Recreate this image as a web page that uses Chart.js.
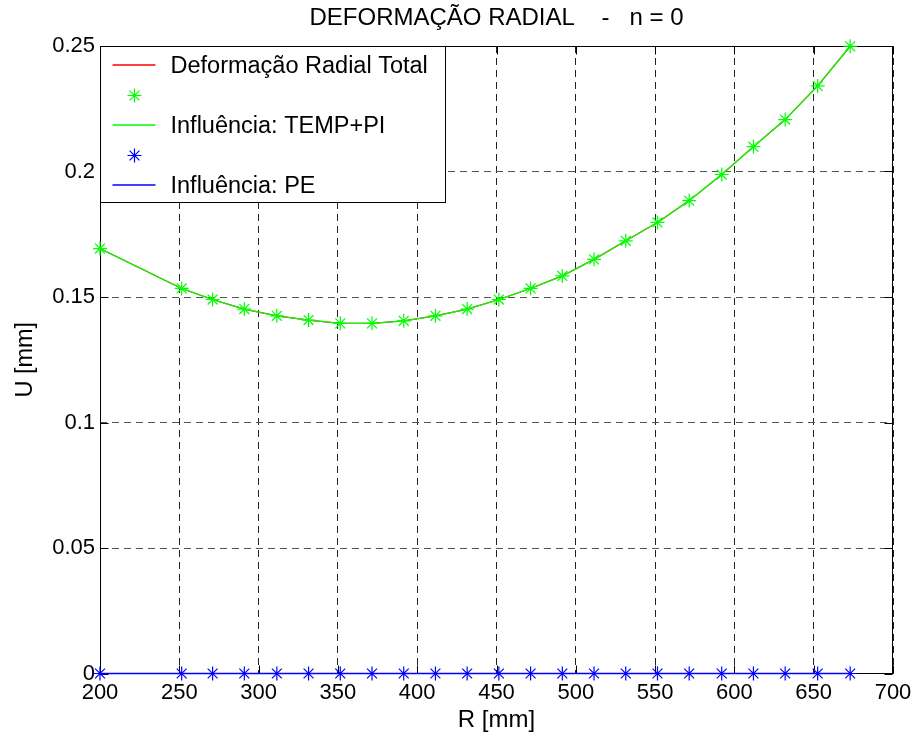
<!DOCTYPE html>
<html>
<head>
<meta charset="utf-8">
<script src="https://cdn.jsdelivr.net/npm/chart.js@4/dist/chart.umd.min.js"></script>
<style>
  html, body { margin: 0; padding: 0; background: #ffffff; }
  #wrap { width: 918px; height: 740px; position: relative; }
</style>
</head>
<body>
<div id="wrap"><canvas id="c" width="918" height="740"></canvas></div>
<script>
// ---- data ----
const chartTitle = 'DEFORMAÇÃO RADIAL    -   n = 0';
const xTitle = 'R [mm]';
const yTitle = 'U [mm]';
const R = [200, 251.5, 271, 291, 311.5, 331.5, 351.5, 371.5, 391.5, 411.5, 431.5, 451.5, 471.5, 491.5, 511.5, 531.5, 551.5, 571.5, 592, 612, 632, 652.5, 673];
const uTotal  = [0.1693, 0.1534, 0.1490, 0.1452, 0.1425, 0.1408, 0.1395, 0.1395, 0.1405, 0.1425, 0.1452, 0.1490, 0.1534, 0.1584, 0.1650, 0.1724, 0.1797, 0.1884, 0.1988, 0.2099, 0.2207, 0.2341, 0.2499];
const uTempPi = [0.1693, 0.1534, 0.1490, 0.1452, 0.1425, 0.1408, 0.1395, 0.1395, 0.1405, 0.1425, 0.1452, 0.1490, 0.1534, 0.1584, 0.1650, 0.1724, 0.1797, 0.1884, 0.1988, 0.2099, 0.2207, 0.2341, 0.2499];
const uPe     = [0, 0, 0, 0, 0, 0, 0, 0, 0, 0, 0, 0, 0, 0, 0, 0, 0, 0, 0, 0, 0, 0, 0];
const xTickLabels = ['200', '250', '300', '350', '400', '450', '500', '550', '600', '650', '700'];
const yTickLabels = ['0', '0.05', '0.1', '0.15', '0.2', '0.25'];
const seriesNames = ['Deformação Radial Total', '', 'Influência: TEMP+PI', '', 'Influência: PE'];
const seriesColors = ['#ff0000', '#00ff00', '#00ff00', '#0000ff', '#0000ff'];

const FONT = "'Liberation Sans', Arial, Helvetica, sans-serif";
const pts = (ys) => R.map((x, i) => ({ x: x, y: ys[i] }));

// border box + inward ticks (MATLAB style), drawn under the data
const frame = {
  id: 'frame',
  beforeDatasetsDraw(chart) {
    const { ctx, chartArea: a, scales } = chart;
    ctx.save();
    ctx.strokeStyle = '#000';
    ctx.lineWidth = 1;
    const L = Math.round(a.left) + 0.5, Rt = Math.round(a.right) - 0.5;
    const T = Math.round(a.top) + 0.5, B = Math.round(a.bottom) - 0.5;
    ctx.beginPath();
    ctx.rect(L, T, Rt - L, B - T);
    const tl = 8;
    scales.x.ticks.forEach(t => {
      const px = Math.round(scales.x.getPixelForValue(t.value)) + 0.5;
      ctx.moveTo(px, B); ctx.lineTo(px, B - tl);
      ctx.moveTo(px, T); ctx.lineTo(px, T + tl);
    });
    scales.y.ticks.forEach(t => {
      const py = Math.round(scales.y.getPixelForValue(t.value)) + 0.5;
      ctx.moveTo(L, py); ctx.lineTo(L + tl, py);
      ctx.moveTo(Rt, py); ctx.lineTo(Rt - tl, py);
    });
    ctx.stroke();
    ctx.restore();
  }
};

// MATLAB-like legend box in the upper-left corner of the axes
const matLegend = {
  id: 'matLegend',
  afterDatasetsDraw(chart) {
    const { ctx, chartArea: a } = chart;
    const ds = chart.data.datasets;
    const x0 = Math.round(a.left) + 0.5, y0 = Math.round(a.top) + 0.5;
    const w = 345, h = 156;
    ctx.save();
    ctx.fillStyle = '#fff';
    ctx.fillRect(x0, y0, w, h);
    ctx.strokeStyle = '#000';
    ctx.lineWidth = 1;
    ctx.strokeRect(x0, y0, w, h);
    ctx.restore();
    ds.forEach((d, i) => {
      const yc = Math.round(y0 + 18 + i * 30);
      const col = seriesColors[i];
      ctx.save();
      ctx.setLineDash([]);
      ctx.strokeStyle = col;
      ctx.beginPath();
      if (d.showLine === false) {
        ctx.lineWidth = 1.2;
        const cx = x0 + 34, y = yc + 0.5, r = 7, q = r * Math.SQRT1_2;
        ctx.moveTo(cx - r, y); ctx.lineTo(cx + r, y);
        ctx.moveTo(cx, y - r); ctx.lineTo(cx, y + r);
        ctx.moveTo(cx - q, y - q); ctx.lineTo(cx + q, y + q);
        ctx.moveTo(cx - q, y + q); ctx.lineTo(cx + q, y - q);
      } else {
        ctx.lineWidth = 1.6;
        ctx.moveTo(x0 + 12, yc);
        ctx.lineTo(x0 + 55, yc);
      }
      ctx.stroke();
      if (d.label) {
        ctx.font = '23.5px ' + FONT;
        ctx.textBaseline = 'middle';
        ctx.textAlign = 'left';
        ctx.fillStyle = '#000';
        ctx.fillText(d.label, x0 + 70, yc + 1.5);
      }
      ctx.restore();
    });
  }
};

new Chart(document.getElementById('c'), {
  type: 'line',
  data: {
    datasets: [
      { label: seriesNames[0], data: pts(uTotal), borderColor: seriesColors[0], backgroundColor: seriesColors[0],
        borderWidth: 1.2, pointRadius: 0, showLine: true, tension: 0, clip: false, order: 4 },
      { label: seriesNames[1], data: pts(uTempPi), borderColor: seriesColors[1], backgroundColor: seriesColors[1],
        showLine: false, pointStyle: 'star', pointRadius: 7, pointBorderWidth: 1.2, clip: false, order: 1 },
      { label: seriesNames[2], data: pts(uTempPi), borderColor: seriesColors[2], backgroundColor: seriesColors[2],
        borderWidth: 1.3, pointRadius: 0, showLine: true, tension: 0, clip: false, order: 2 },
      { label: seriesNames[3], data: pts(uPe), borderColor: seriesColors[3], backgroundColor: seriesColors[3],
        showLine: false, pointStyle: 'star', pointRadius: 7, pointBorderWidth: 1.2, clip: false, order: 0 },
      { label: seriesNames[4], data: pts(uPe), borderColor: seriesColors[4], backgroundColor: seriesColors[4],
        borderWidth: 1.6, pointRadius: 0, showLine: true, tension: 0, clip: false, order: 3 }
    ]
  },
  options: {
    responsive: false,
    animation: false,
    layout: { padding: { top: 0, right: 25, bottom: 0, left: 0 } },
    plugins: {
      legend: { display: false },
      tooltip: { enabled: false },
      title: {
        display: true, text: chartTitle, fullSize: false, color: '#000',
        font: { family: FONT, size: 24, weight: 'normal' },
        padding: { top: 4, bottom: 13.2 }
      }
    },
    scales: {
      x: {
        type: 'linear', min: 200, max: 700,
        afterFit(s) { s.height = 66.5; },
        ticks: {
          stepSize: 50, color: '#000', padding: 6, maxRotation: 0, autoSkip: false,
          font: { family: FONT, size: 22 },
          callback: (v, i) => xTickLabels[i]
        },
        grid: { color: '#222', lineWidth: 1, drawTicks: false, tickLength: 0 },
        border: { display: false, dash: [7, 5] },
        title: { display: true, text: xTitle, color: '#000', font: { family: FONT, size: 24 }, padding: { top: 0, bottom: 5 } }
      },
      y: {
        type: 'linear', min: 0, max: 0.25,
        afterFit(s) { s.width = 100; },
        ticks: {
          stepSize: 0.05, color: '#000', padding: 5, autoSkip: false,
          font: { family: FONT, size: 22 },
          callback: (v, i) => yTickLabels[i]
        },
        grid: { color: '#555', lineWidth: 1, drawTicks: false, tickLength: 0 },
        border: { display: false, dash: [7, 5] },
        title: { display: true, text: yTitle, color: '#000', font: { family: FONT, size: 23.5 }, padding: { top: 11, bottom: 0 } }
      }
    }
  },
  plugins: [frame, matLegend]
});
</script>
</body>
</html>
